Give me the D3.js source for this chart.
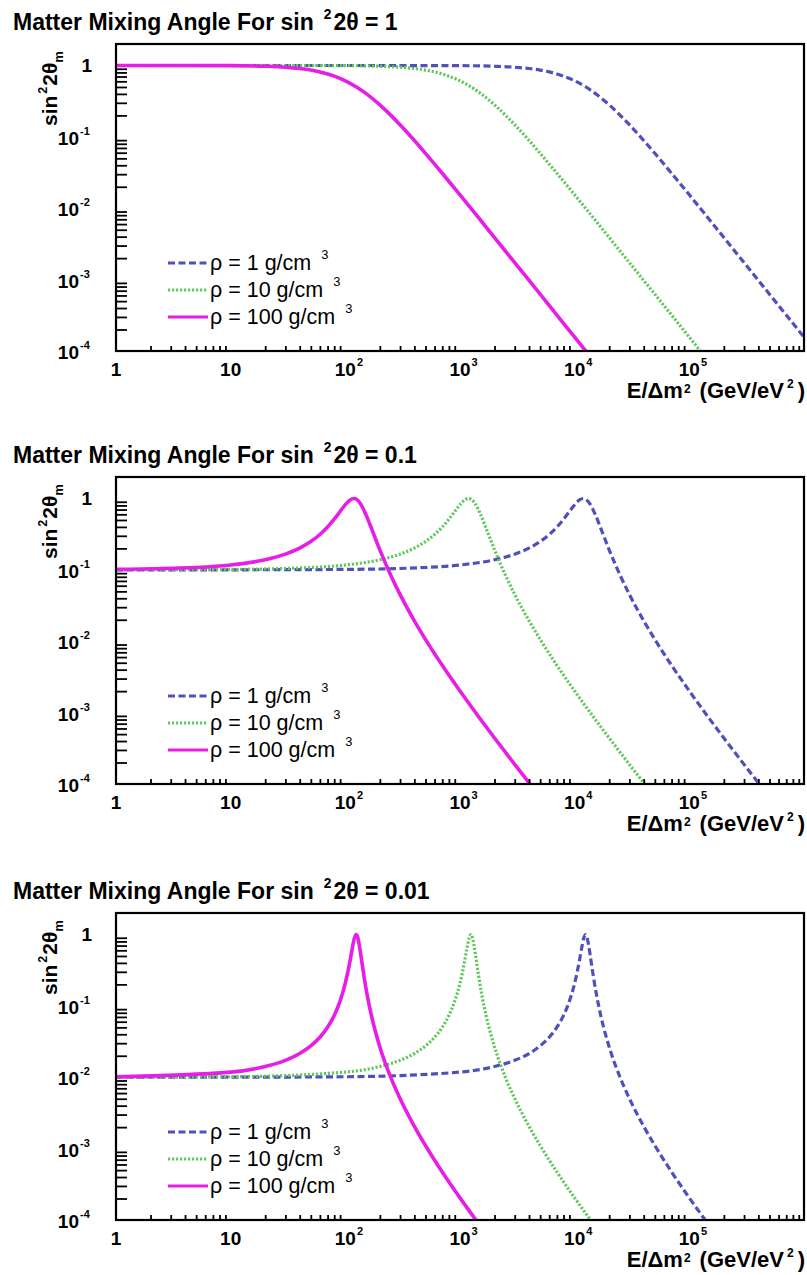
<!DOCTYPE html>
<html>
<head>
<meta charset="utf-8">
<script src="https://cdn.jsdelivr.net/npm/d3@7"></script>
<style>
  html, body { margin: 0; padding: 0; background: #fff; }
  svg { display: block; }
  text { font-family: "Liberation Sans", Arial, Helvetica, sans-serif; fill: #000; }
</style>
</head>
<body>
<svg id="chart" width="807" height="1275"></svg>
<script>
// ---- data -------------------------------------------------------------
const vacuumMixing = ["1", "0.1", "0.01"];          // sin^2 2θ of each panel
const densityLabels = ["1", "10", "100"];           // ρ in g/cm^3
const xTickExponents = [0, 1, 2, 3, 4, 5];
const yTickExponents = [0, -1, -2, -3, -4];

// sin^2 2θ = 1
const p1E_rho1   = [1, 10, 100, 1000, 2000, 3000, 4000, 5000, 6000, 7000, 8000, 1e4, 1.25e4, 1.5e4, 2e4, 2.5e4, 3e4, 4e4, 5e4, 7e4, 1e5, 1.5e5, 2e5, 3e5, 5e5, 7e5, 1e6];
const p1V_rho1   = [1, 1, 1, 0.994, 0.975, 0.946, 0.907, 0.862, 0.813, 0.761, 0.709, 0.610, 0.500, 0.410, 0.281, 0.200, 0.148, 0.0890, 0.0588, 0.0309, 0.0154, 0.00690, 0.00389, 0.00173, 6.25e-4, 3.19e-4, 1.56e-4];
const p1E_rho10  = [1, 10, 100, 200, 300, 400, 500, 600, 700, 800, 1000, 1250, 1500, 2000, 2500, 3000, 4000, 5000, 7000, 1e4, 1.5e4, 2e4, 3e4, 5e4, 7e4, 1e5, 1.4e5];
const p1V_rho10  = [1, 1, 0.994, 0.975, 0.946, 0.907, 0.862, 0.813, 0.761, 0.709, 0.610, 0.500, 0.410, 0.281, 0.200, 0.148, 0.0890, 0.0588, 0.0309, 0.0154, 0.00690, 0.00389, 0.00173, 6.25e-4, 3.19e-4, 1.56e-4, 7.97e-5];
const p1E_rho100 = [1, 10, 20, 30, 40, 50, 60, 70, 80, 100, 125, 150, 200, 250, 300, 400, 500, 700, 1000, 1500, 2000, 3000, 5000, 7000, 10000, 14000];
const p1V_rho100 = [1, 0.994, 0.975, 0.946, 0.907, 0.862, 0.813, 0.761, 0.709, 0.610, 0.500, 0.410, 0.281, 0.200, 0.148, 0.0890, 0.0588, 0.0309, 0.0154, 0.00690, 0.00389, 0.00173, 6.25e-4, 3.19e-4, 1.56e-4, 7.97e-5];

// sin^2 2θ = 0.1
const p2E_rho1   = [1, 10, 100, 500, 1000, 2000, 3000, 4000, 5000, 6000, 7000, 8000, 9000, 1e4, 1.1e4, 1.186e4, 1.25e4, 1.35e4, 1.5e4, 1.75e4, 2e4, 2.5e4, 3e4, 4e4, 5e4, 7e4, 1e5, 1.5e5, 2e5, 3e5, 4.1e5, 5e5];
const p2V_rho1   = [0.1000, 0.1002, 0.1015, 0.1080, 0.1170, 0.1385, 0.1660, 0.2019, 0.2493, 0.3128, 0.3983, 0.5120, 0.6566, 0.8190, 0.9549, 1.000, 0.9744, 0.8530, 0.6128, 0.3293, 0.1908, 0.0830, 0.0453, 0.01935, 0.01063, 0.00460, 0.002007, 8.18e-4, 4.41e-4, 1.882e-4, 9.86e-5, 6.56e-5];
const p2E_rho10  = [1, 10, 50, 100, 200, 300, 400, 500, 600, 700, 800, 900, 1000, 1100, 1186, 1250, 1350, 1500, 1750, 2000, 2500, 3000, 4000, 5000, 7000, 1e4, 1.5e4, 2e4, 3e4, 4.1e4, 5e4];
const p2V_rho10  = [0.1002, 0.1015, 0.1080, 0.1170, 0.1385, 0.1660, 0.2019, 0.2493, 0.3128, 0.3983, 0.5120, 0.6566, 0.8190, 0.9549, 1.000, 0.9744, 0.8530, 0.6128, 0.3293, 0.1908, 0.0830, 0.0453, 0.01935, 0.01063, 0.00460, 0.002007, 8.18e-4, 4.41e-4, 1.882e-4, 9.86e-5, 6.56e-5];
const p2E_rho100 = [1, 5, 10, 20, 30, 40, 50, 60, 70, 80, 90, 100, 110, 118.6, 125, 135, 150, 175, 200, 250, 300, 400, 500, 700, 1000, 1500, 2000, 3000, 4100, 5000];
const p2V_rho100 = [0.1015, 0.1080, 0.1170, 0.1385, 0.1660, 0.2019, 0.2493, 0.3128, 0.3983, 0.5120, 0.6566, 0.8190, 0.9549, 1.000, 0.9744, 0.8530, 0.6128, 0.3293, 0.1908, 0.0830, 0.0453, 0.01935, 0.01063, 0.00460, 0.002007, 8.18e-4, 4.41e-4, 1.882e-4, 9.86e-5, 6.56e-5];

// sin^2 2θ = 0.01
const p3E_rho1   = [1, 10, 100, 1000, 2000, 3000, 4000, 5000, 6000, 7000, 8000, 9000, 1e4, 1.05e4, 1.1e4, 1.15e4, 1.2e4, 1.244e4, 1.28e4, 1.32e4, 1.37e4, 1.45e4, 1.55e4, 1.7e4, 2e4, 2.5e4, 3e4, 4e4, 5e4, 7e4, 1e5, 1.4e5];
const p3V_rho1   = [0.01000, 0.01002, 0.01016, 0.01180, 0.01414, 0.01724, 0.02148, 0.02747, 0.03634, 0.05020, 0.07353, 0.1168, 0.2083, 0.2941, 0.4307, 0.6400, 0.8909, 1.000, 0.9224, 0.7288, 0.4950, 0.2686, 0.1428, 0.0698, 0.0266, 0.00980, 0.00504, 0.002053, 0.001106, 4.71e-4, 2.04e-4, 9.60e-5];
const p3E_rho10  = [1, 10, 100, 200, 300, 400, 500, 600, 700, 800, 900, 1000, 1050, 1100, 1150, 1200, 1244, 1280, 1320, 1370, 1450, 1550, 1700, 2000, 2500, 3000, 4000, 5000, 7000, 1e4, 1.4e4];
const p3V_rho10  = [0.01002, 0.01016, 0.01180, 0.01414, 0.01724, 0.02148, 0.02747, 0.03634, 0.05020, 0.07353, 0.1168, 0.2083, 0.2941, 0.4307, 0.6400, 0.8909, 1.000, 0.9224, 0.7288, 0.4950, 0.2686, 0.1428, 0.0698, 0.0266, 0.00980, 0.00504, 0.002053, 0.001106, 4.71e-4, 2.04e-4, 9.60e-5];
const p3E_rho100 = [1, 10, 20, 30, 40, 50, 60, 70, 80, 90, 100, 105, 110, 115, 120, 124.4, 128, 132, 137, 145, 155, 170, 200, 250, 300, 400, 500, 700, 1000, 1400];
const p3V_rho100 = [0.01016, 0.01180, 0.01414, 0.01724, 0.02148, 0.02747, 0.03634, 0.05020, 0.07353, 0.1168, 0.2083, 0.2941, 0.4307, 0.6400, 0.8909, 1.000, 0.9224, 0.7288, 0.4950, 0.2686, 0.1428, 0.0698, 0.0266, 0.00980, 0.00504, 0.002053, 0.001106, 4.71e-4, 2.04e-4, 9.60e-5];

const panelSeries = [
  [[p1E_rho1, p1V_rho1], [p1E_rho10, p1V_rho10], [p1E_rho100, p1V_rho100]],
  [[p2E_rho1, p2V_rho1], [p2E_rho10, p2V_rho10], [p2E_rho100, p2V_rho100]],
  [[p3E_rho1, p3V_rho1], [p3E_rho10, p3V_rho10], [p3E_rho100, p3V_rho100]]
];

// ---- layout & style ---------------------------------------------------
const frameLeft = 116, frameRight = 804, frameHeight = 307;
const panelTops = [44, 477, 913];
const styles = [
  { color: "#5050bc", dash: "7,3.5", width: 3.2 },
  { color: "#62c85e", dash: "2.2,1.8", width: 3.2 },
  { color: "#e61ee6", dash: null,    width: 3.6 }
];
const FONT_BOLD = 700;

const svg = d3.select("#chart");
const x = d3.scaleLog().domain([1, 1e6]).range([frameLeft, frameRight]);

// text made of runs with superscripts / subscripts
function richText(parent, px, py, parts, size, weight, anchor) {
  const t = parent.append("text")
    .attr("x", px).attr("y", py)
    .attr("font-size", size)
    .attr("font-weight", weight)
    .attr("text-anchor", anchor || "start");
  let cur = 0;
  parts.forEach(p => {
    const shift = p.s === "sup" ? -(p.rise || size * 0.5) : p.s === "sub" ? size * 0.28 : 0;
    const ts = t.append("tspan").attr("dy", shift - cur).text(p.t);
    if (p.dx) ts.attr("dx", p.dx);
    if (p.s) ts.attr("font-size", p.size || size * 0.6);
    cur = shift;
  });
  return t;
}

panelTops.forEach((top, pi) => {
  const bottom = top + frameHeight;
  const y = d3.scaleLog().domain([1e-4, 2]).range([bottom, top]);
  const g = svg.append("g");

  // title
  richText(g, 13, top - 14, [
    { t: "Matter Mixing Angle For sin" },
    { t: "2", s: "sup", dx: 10 },
    { t: "2θ = " + vacuumMixing[pi], dx: 2 }
  ], 23, FONT_BOLD);

  // curves, clipped to the frame
  const clipId = "clip" + pi;
  g.append("clipPath").attr("id", clipId)
    .append("rect").attr("x", frameLeft).attr("y", top)
    .attr("width", frameRight - frameLeft).attr("height", frameHeight);

  const line = d3.line()
    .x(d => x(d[0]))
    .y(d => y(d[1]))
    .curve(d3.curveMonotoneX);

  const curves = g.append("g").attr("clip-path", `url(#${clipId})`);
  panelSeries[pi].forEach(([es, vs], si) => {
    const st = styles[si];
    curves.append("path")
      .datum(es.map((e, k) => [e, vs[k]]))
      .attr("d", line)
      .attr("fill", "none")
      .attr("stroke", st.color)
      .attr("stroke-width", st.width)
      .attr("stroke-dasharray", st.dash);
  });

  // ticks
  const xMajor = xTickExponents.map(n => Math.pow(10, n));
  const xMinor = [];
  xTickExponents.forEach(n => { for (let k = 2; k <= 9; k++) xMinor.push(k * Math.pow(10, n)); });
  const yMajor = yTickExponents.map(n => Math.pow(10, n));
  const yMinor = [];
  [-4, -3, -2, -1].forEach(n => { for (let k = 2; k <= 9; k++) yMinor.push(k * Math.pow(10, n)); });

  const axX = g.append("g").attr("transform", `translate(0,${bottom})`);
  axX.call(d3.axisBottom(x).tickValues(xMajor).tickSizeInner(-9).tickSizeOuter(0).tickFormat(""));
  axX.call(d3.axisBottom(x).tickValues(xMinor).tickSizeInner(-5).tickSizeOuter(0).tickFormat(""));
  const axY = g.append("g").attr("transform", `translate(${frameLeft},0)`);
  axY.call(d3.axisLeft(y).tickValues(yMajor).tickSizeInner(-22).tickSizeOuter(0).tickFormat(""));
  axY.call(d3.axisLeft(y).tickValues(yMinor).tickSizeInner(-11).tickSizeOuter(0).tickFormat(""));
  g.selectAll(".domain").remove();
  g.selectAll(".tick line").attr("stroke", "#000").attr("stroke-width", 1.8);

  // frame
  g.append("rect")
    .attr("x", frameLeft).attr("y", top)
    .attr("width", frameRight - frameLeft).attr("height", frameHeight)
    .attr("fill", "none").attr("stroke", "#000").attr("stroke-width", 2.2);

  // x tick labels
  xTickExponents.forEach(n => {
    const px = x(Math.pow(10, n));
    const base = g.append("text")
      .attr("x", px).attr("y", bottom + 25)
      .attr("font-size", 19).attr("font-weight", FONT_BOLD)
      .attr("text-anchor", "middle")
      .text(n === 0 ? "1" : "10");
    if (n >= 2) {
      const w = base.node().getComputedTextLength();
      g.append("text")
        .attr("x", px + w / 2 + 1).attr("y", bottom + 15)
        .attr("font-size", 11).attr("font-weight", FONT_BOLD)
        .text(String(n));
    }
  });

  // y tick labels
  yTickExponents.forEach(n => {
    const py = y(Math.pow(10, n));
    if (n === 0) {
      g.append("text").attr("x", 92).attr("y", py + 7)
        .attr("font-size", 19).attr("font-weight", FONT_BOLD)
        .attr("text-anchor", "end").text("1");
    } else {
      g.append("text").attr("x", 79).attr("y", py + 8)
        .attr("font-size", 19).attr("font-weight", FONT_BOLD)
        .attr("text-anchor", "end").text("10");
      g.append("text").attr("x", 80).attr("y", py - 2)
        .attr("font-size", 11).attr("font-weight", FONT_BOLD)
        .text(String(n));
    }
  });

  // axis titles
  richText(g, frameRight + 1, bottom + 47, [
    { t: "E/Δm" },
    { t: "2", s: "sup", dx: 1, rise: 5, size: 12 },
    { t: "(GeV/eV", dx: 9 },
    { t: "2", s: "sup", dx: 3, rise: 10, size: 12 },
    { t: ")", dx: 4 }
  ], 22, FONT_BOLD, "end");

  const yt = g.append("g").attr("transform", `translate(57,${top + 82}) rotate(-90)`);
  richText(yt, 0, 0, [
    { t: "sin" },
    { t: "2", s: "sup", dx: 2 },
    { t: "2θ", dx: 1 },
    { t: "m", s: "sub" }
  ], 21, FONT_BOLD);

  // legend
  const legTop = top + 219, legStep = 27;
  styles.forEach((st, si) => {
    const ly = legTop + si * legStep;
    g.append("line")
      .attr("x1", 168).attr("x2", 208).attr("y1", ly).attr("y2", ly)
      .attr("stroke", st.color).attr("stroke-width", 3)
      .attr("stroke-dasharray", st.dash);
    richText(g, 210, ly + 7, [
      { t: "ρ = " + densityLabels[si] + " g/cm" },
      { t: "3", s: "sup", dx: 10 }
    ], 21.5, 400);
  });
});
</script>
</body>
</html>
